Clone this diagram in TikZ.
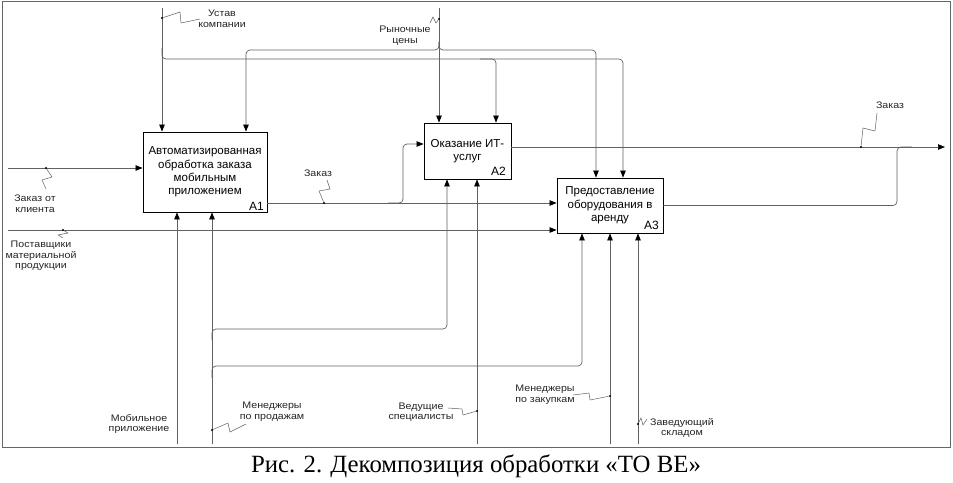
\documentclass[tikz,border=0pt]{standalone}
\usepackage{fontspec}
\setmainfont{Liberation Sans}
\newfontfamily\capfont{Liberation Serif}
\newfontfamily\lblfont[FakeStretch=1.12]{Liberation Sans}
\usetikzlibrary{arrows.meta}
\begin{document}
\begin{tikzpicture}[x=1pt,y=-1pt,
  box/.style={draw=black,line width=0.9pt,inner sep=0pt,font=\fontsize{11.5}{13.3}\selectfont,align=center},
  conn/.style={draw=black!62,line width=0.7pt,rounded corners=4pt},
  arr/.style={conn,-{Triangle[length=7pt,width=5.5pt,color=black]}},
  lbl/.style={font=\lblfont\fontsize{9.5}{10.6}\selectfont,align=center,text=black!85,inner sep=0pt},
  sq/.style={draw=black!62,line width=0.5pt},
  dotc/.style={circle,fill=black,inner sep=0pt,minimum size=2.4pt},
  num/.style={font=\fontsize{12}{14}\selectfont,inner sep=0pt}]
\useasboundingbox (0,0) rectangle (953,482);
\fill[white] (0,0) rectangle (953,482);
\draw[black!60,line width=1pt] (2,1) rectangle (950,447);

% boxes
\node[box,minimum width=124pt,minimum height=80pt] (a1) at (205,172) {Автоматизированная\\обработка заказа\\мобильным\\приложением};
\node[num,anchor=base east] (a1n) at (264,210) {A1};
\node[box,minimum width=87pt,minimum height=56pt] (a2) at (467.5,151) {Оказание ИТ-\\услуг};
\node[num,anchor=base east] (a2n) at (506,175) {A2};
\node[box,minimum width=106pt,minimum height=55pt] (a3) at (610,205.5) {Предоставление\\оборудования в\\аренду};
\node[num,anchor=base east] (a3n) at (659,229) {A3};

% controls: Устав компании
\coordinate (ustavT) at (162,8);
\coordinate (uj) at (162,48);
\coordinate (u2) at (496,59);
\coordinate (u3) at (623,59);
\coordinate (u2j) at (480,59);
\draw[arr] (ustavT) -- (ustavT |- a1.north);
\draw[arr] (uj) |- (u3) -- (u3 |- a3.north);
\draw[arr] (u2j) -- (u2) -- (u2 |- a2.north);
\node[dotc] (ud) at (162,18) {};
\draw[sq] (ud) -- (180,12) -- (181,23) -- (200,19);
\node[lbl] (ustavL) at (222,18.5) {Устав\\компании};

% controls: Рыночные цены
\coordinate (rynT) at (439,8);
\coordinate (rj) at (439,42);
\coordinate (rc) at (439,50);
\coordinate (r1) at (246,50);
\coordinate (r3) at (596,50);
\draw[arr] (rynT) -- (rynT |- a2.north);
\draw[arr] (rj) -- (rc) -- (r1) -- (r1 |- a1.north);
\draw[arr] (rj) -- (rc) -- (r3) -- (r3 |- a3.north);
\node[dotc] (rd) at (439,19) {};
\draw[sq] (rd) -- (436,23) -- (433,17) -- (430,23);
\node[lbl] (rynL) at (405,35.5) {Рыночные\\цены};

% inputs
\coordinate (zkT) at (8,168);
\draw[arr] (zkT) -- (zkT -| a1.west);
\node[dotc] (zkd) at (46,168) {};
\draw[sq] (zkd) -- (52,177) -- (42,180) -- (46,189);
\node[lbl] (zkL) at (35,204) {Заказ от\\клиента};

\coordinate (postT) at (8,230);
\draw[arr] (postT) -- (postT -| a3.west);
\node[dotc] (pd) at (63,230) {};
\draw[sq] (pd) -- (68,233) -- (58,235) -- (63,238);
\node[lbl] (postL) at (41,256) {Поставщики\\материальной\\продукции};

% A1 output
\path (a1.east) ++(0,31) coordinate (o1s);
\coordinate (bj) at (388,203);
\coordinate (bc) at (403,203);
\coordinate (a2in) at (403,144);
\draw[arr] (o1s) -- (o1s -| a3.west);
\draw[arr] (bj) -- (bc) -- (a2in) -- (a2in -| a2.west);
\node[dotc] (o1d) at (324,203) {};
\draw[sq] (o1d) -- (319,191) -- (330,189) -- (327,180);
\node[lbl] (o1L) at (318,173) {Заказ};

% A2 / A3 outputs
\path (a2.east) ++(0,-4) coordinate (o2s);
\coordinate (outE) at (945,147);
\draw[arr] (o2s) -- (outE);
\coordinate (o3c) at (897,205.5);
\coordinate (o3j) at (897,147);
\coordinate (o3e) at (912,147);
\draw[conn] (a3.east) -- (o3c) -- (o3j) -- (o3e);
\node[dotc] (o2d) at (861,147) {};
\draw[sq] (o2d) -- (863,128) -- (875,131) -- (877,113);
\node[lbl] (o2L) at (890,105) {Заказ};

% mechanisms
\coordinate (mobB) at (177,444);
\draw[arr] (mobB) -- (mobB |- a1.south);
\node[lbl] (mobL) at (139,424) {Мобильное\\приложение};

\coordinate (mprB) at (212,444);
\coordinate (mj2) at (212,340);
\coordinate (mj3) at (212,378);
\coordinate (m2) at (447,329);
\coordinate (m3) at (582,366);
\draw[arr] (mprB) -- (mprB |- a1.south);
\draw[arr] (mj2) |- (m2) -- (m2 |- a2.south);
\draw[arr] (mj3) |- (m3) -- (m3 |- a3.south);
\node[dotc] (mprd) at (212,430) {};
\draw[sq] (mprd) -- (228,423) -- (230,432) -- (246,424);
\node[lbl] (mprL) at (272,411.5) {Менеджеры\\по продажам};

\coordinate (vedB) at (477,444);
\draw[arr] (vedB) -- (vedB |- a2.south);
\node[dotc] (vedd) at (477,411) {};
\draw[sq] (vedd) -- (463,415) -- (462,409) -- (448,408);
\node[lbl] (vedL) at (421,412) {Ведущие\\специалисты};

\coordinate (mzkB) at (610,444);
\draw[arr] (mzkB) -- (mzkB |- a3.south);
\node[dotc] (mzkd) at (610,396) {};
\draw[sq] (mzkd) -- (590,400) -- (589,393) -- (573,395);
\node[lbl] (mzkL) at (545,394.5) {Менеджеры\\по закупкам};

\coordinate (zavB) at (638,444);
\draw[arr] (zavB) -- (zavB |- a3.south);
\node[dotc] (zavd) at (638,424) {};
\draw[sq] (zavd) -- (641,418) -- (643,425) -- (647,419);
\node[lbl] (zavL) at (682,428) {Заведующий\\складом};

% caption
\node[font=\capfont\fontsize{24.8}{28}\selectfont,inner sep=0pt] (cap) at (476,466) {Рис. 2. Декомпозиция обработки «ТО ВЕ»};
\end{tikzpicture}
\end{document}
